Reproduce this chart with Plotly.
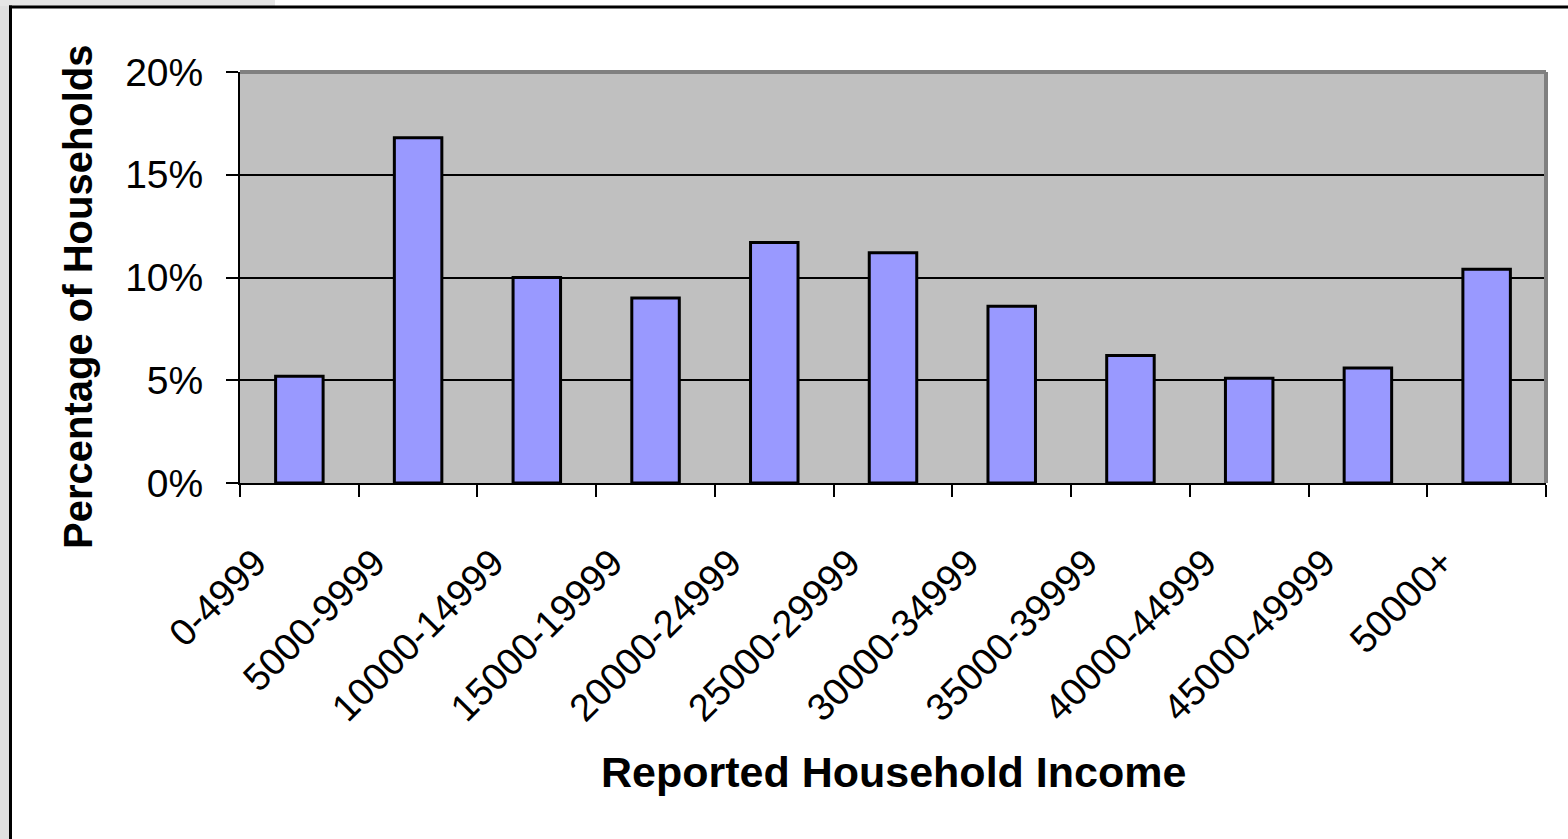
import plotly.graph_objects as go

categories = ["0-4999", "5000-9999", "10000-14999", "15000-19999", "20000-24999",
              "25000-29999", "30000-34999", "35000-39999", "40000-44999",
              "45000-49999", "50000+"]
percent_households = [5.2, 16.8, 10.0, 9.0, 11.7, 11.2, 8.6, 6.2, 5.1, 5.6, 10.4]
y_tick_values = [0, 5, 10, 15, 20]
y_tick_labels = ["0%", "5%", "10%", "15%", "20%"]

W, H = 1568, 839
L, R, T, B = 240, 1546, 72, 483
pw, ph = R - L, B - T

def px_x(px):
    return (px - L) / pw

def px_y(py):
    return (B - py) / ph

FONT = "Arial, 'Liberation Sans', sans-serif"

fig = go.Figure(go.Bar(
    x=categories, y=percent_households,
    marker=dict(color="#9999FF", line=dict(color="black", width=3)),
))

fig.update_layout(
    width=W, height=H,
    margin=dict(l=L, r=W - R, t=T, b=H - B),
    paper_bgcolor="white", plot_bgcolor="#C0C0C0",
    bargap=0.6, showlegend=False,
    font=dict(family=FONT, color="black"),
)
fig.update_xaxes(
    tickangle=-45, tickfont=dict(size=38, family=FONT),
    ticklabelstandoff=40, ticklabelshift=-44,
    ticks="outside", ticklen=12, tickwidth=2, tickcolor="black",
    tickson="boundaries", showline=True, linecolor="black", linewidth=2,
    showgrid=False, range=[-0.5, 10.5],
)
fig.update_yaxes(
    range=[0, 20], tickvals=y_tick_values, ticktext=y_tick_labels,
    tickfont=dict(size=39, family=FONT), ticklabelstandoff=15,
    ticks="outside", ticklen=12, tickwidth=2, tickcolor="black",
    showline=True, linecolor="black", linewidth=2,
    showgrid=True, gridcolor="black", gridwidth=2, zeroline=False,
)

shapes = [
    # plot area gray border (top/right)
    dict(type="line", xref="paper", yref="paper", x0=0, x1=1, y0=1, y1=1,
         line=dict(color="#808080", width=4)),
    dict(type="line", xref="paper", yref="paper", x0=1, x1=1, y0=0, y1=1,
         line=dict(color="#808080", width=4)),
    # gray strips at left/top edges
    dict(type="rect", xref="paper", yref="paper", x0=px_x(0), x1=px_x(9),
         y0=px_y(H), y1=px_y(0), fillcolor="#E0E0E0", line=dict(width=0), layer="below"),
    dict(type="rect", xref="paper", yref="paper", x0=px_x(0), x1=px_x(275),
         y0=px_y(6), y1=px_y(0), fillcolor="#E6E6E6", line=dict(width=0), layer="below"),
    # outer chart border
    dict(type="line", xref="paper", yref="paper", x0=px_x(10.5), x1=px_x(10.5),
         y0=px_y(H + 10), y1=px_y(5.5), line=dict(color="black", width=3)),
    dict(type="line", xref="paper", yref="paper", x0=px_x(9), x1=px_x(W + 10),
         y0=px_y(7), y1=px_y(7), line=dict(color="black", width=3)),
]
fig.update_layout(shapes=shapes)

fig.add_annotation(text="<b>Percentage of Households</b>", xref="paper", yref="paper",
                   x=px_x(78), y=px_y(297), textangle=-90, showarrow=False,
                   font=dict(size=40, family=FONT, color="black"),
                   xanchor="center", yanchor="middle")
fig.add_annotation(text="<b>Reported Household Income</b>", xref="paper", yref="paper",
                   x=px_x(893), y=px_y(772), showarrow=False,
                   font=dict(size=43, family=FONT, color="black"),
                   xanchor="center", yanchor="middle")

fig.write_html("out.html")
